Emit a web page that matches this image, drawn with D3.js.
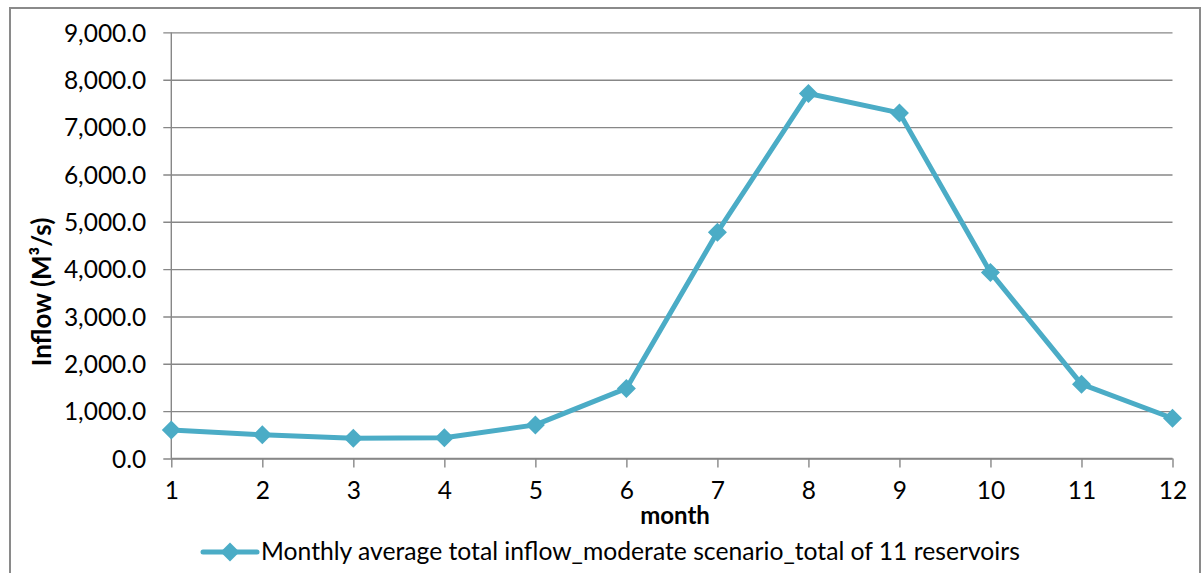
<!DOCTYPE html>
<html>
<head>
<meta charset="utf-8">
<script src="https://cdn.jsdelivr.net/npm/d3@7/dist/d3.min.js"></script>
<style>
  html, body { margin: 0; padding: 0; background: #fff; }
  svg { display: block; }
  text { font-family: Lato, "Open Sans", sans-serif; fill: #000; }
</style>
</head>
<body>
<svg id="chart" width="1203" height="573"></svg>
<script>
// Monthly average total inflow, moderate scenario, 11 reservoirs combined
const months = [1, 2, 3, 4, 5, 6, 7, 8, 9, 10, 11, 12];
const inflow = [600, 500, 430, 440, 710, 1480, 4780, 7710, 7300, 3930, 1570, 850];
const yTicks = [0, 1000, 2000, 3000, 4000, 5000, 6000, 7000, 8000, 9000];
const seriesName = "Monthly average total inflow_moderate scenario_total of 11 reservoirs";
const xTitle = "month";
const yTitle = "Inflow (M³/s)";

const svg = d3.select("#chart");
const color = "#4BACC6";
const gridColor = "#878787";

// Chart frame
svg.append("rect")
  .attr("x", 10).attr("y", 8)
  .attr("width", 1190).attr("height", 600)
  .attr("fill", "#fff")
  .attr("stroke", "#8a8a8a")
  .attr("stroke-width", 2);

const plot = { left: 171.3, right: 1172.5, top: 32.4, bottom: 458.5 };

const x = d3.scaleLinear().domain([1, 12]).range([plot.left, plot.right]);
const y = d3.scaleLinear().domain([0, 9000]).range([plot.bottom, plot.top]);

// Horizontal gridlines with left tick marks and labels
const yAxis = d3.axisLeft(y)
  .tickValues(yTicks)
  .tickSize(-(plot.right - plot.left))
  .tickPadding(25)
  .tickFormat(d3.format(",.1f"));

const gy = svg.append("g")
  .attr("transform", `translate(${plot.left},0)`)
  .call(yAxis);
gy.select(".domain").remove();
gy.selectAll(".tick line")
  .attr("x1", -8)
  .attr("stroke", gridColor)
  .attr("stroke-width", 1.4);
gy.selectAll(".tick text")
  .style("font-size", "24.5px")
  .attr("dy", "0.36em");

// Vertical axis line
svg.append("line")
  .attr("x1", plot.left).attr("x2", plot.left)
  .attr("y1", plot.top).attr("y2", plot.bottom)
  .attr("stroke", gridColor).attr("stroke-width", 1.4);

// Month axis
const xAxis = d3.axisBottom(x)
  .tickValues(months)
  .tickSize(9)
  .tickPadding(14)
  .tickFormat(d3.format("d"));
const gx = svg.append("g")
  .attr("transform", `translate(0,${plot.bottom})`)
  .call(xAxis);
gx.select(".domain")
  .attr("d", `M${plot.left},0H${plot.right}`)
  .attr("stroke", gridColor).attr("stroke-width", 1.4);
gx.selectAll(".tick line")
  .attr("stroke", gridColor).attr("stroke-width", 1.4);
gx.selectAll(".tick text")
  .style("font-size", "24.5px");

// Axis titles
svg.append("text")
  .attr("x", 675)
  .attr("y", 524)
  .attr("text-anchor", "middle")
  .style("font-size", "24px")
  .style("font-weight", "bold")
  .text(xTitle);

svg.append("text")
  .attr("transform", "translate(51,292) rotate(-90)")
  .attr("text-anchor", "middle")
  .style("font-size", "26px")
  .style("font-weight", "bold")
  .text(yTitle);

// Series line
const data = months.map((m, i) => ({ m, v: inflow[i] }));
const line = d3.line().x(d => x(d.m)).y(d => y(d.v));

svg.append("path")
  .datum(data)
  .attr("d", line)
  .attr("fill", "none")
  .attr("stroke", color)
  .attr("stroke-width", 5)
  .attr("stroke-linejoin", "round");

const diamondPath = "M0,-9.5L9.5,0L0,9.5L-9.5,0Z";

svg.append("g")
  .selectAll("path")
  .data(data)
  .join("path")
  .attr("transform", d => `translate(${x(d.m)},${y(d.v)})`)
  .attr("d", diamondPath)
  .attr("fill", color);

// Legend
const lg = svg.append("g");
lg.append("line")
  .attr("x1", 203).attr("x2", 257)
  .attr("y1", 552).attr("y2", 552)
  .attr("stroke", color).attr("stroke-width", 5)
  .attr("stroke-linecap", "round");
lg.append("path")
  .attr("transform", "translate(230,552)")
  .attr("d", diamondPath)
  .attr("fill", color);
lg.append("text")
  .attr("x", 261)
  .attr("y", 560)
  .style("font-size", "24.7px")
  .text(seriesName);
</script>
</body>
</html>
